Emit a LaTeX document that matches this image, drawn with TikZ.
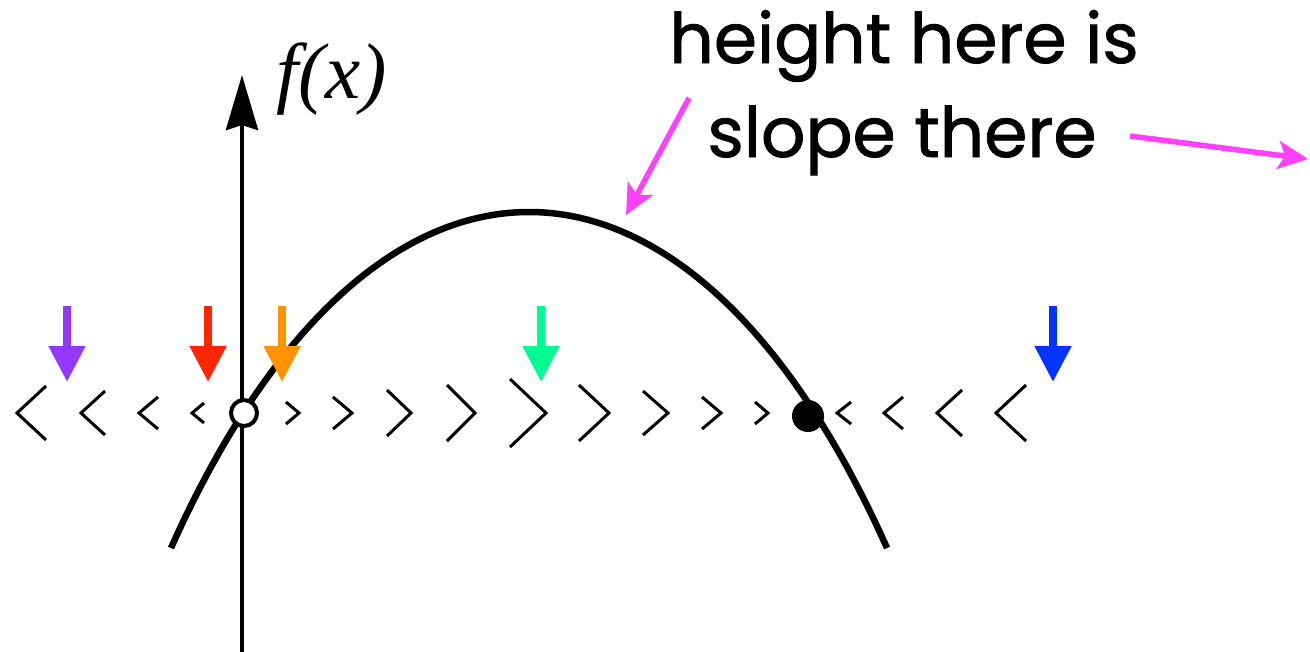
\documentclass[tikz,border=0pt]{standalone}
\usepackage{fontspec}
\setmainfont{Poppins}
\newfontfamily\labelfont{Poppins}[FakeBold=1.2]
\newfontfamily\timesfont{Liberation Serif}
\usetikzlibrary{arrows.meta}
\definecolor{grape}{HTML}{9437FF}
\definecolor{maraschino}{HTML}{FF2600}
\definecolor{tangerine}{HTML}{FF9300}
\definecolor{seafoam}{HTML}{00FA92}
\definecolor{blueberry}{HTML}{0433FF}
\definecolor{magentacrayon}{HTML}{FF40FF}
\begin{document}
\begin{tikzpicture}[x=0.01cm,y=-0.01cm,
  chev/.style={line width=0.03cm, line cap=butt, line join=miter},
  axisline/.style={line width=0.04cm, -{Stealth[length=0.55cm,width=0.32cm,inset=0.05cm]}},
  curveline/.style={line width=0.065cm},
  flowarrow/.style={line width=0.08cm, draw=#1, -{Triangle[length=0.36cm,width=0.35cm,fill=#1]}},
  pinkarrow/.style={line width=0.055cm, draw=magentacrayon, -{Stealth[length=0.3cm,width=0.28cm,inset=0.07cm,fill=magentacrayon]}},
  opendot/.style={circle, draw, line width=0.04cm, fill=white, minimum size=0.26cm, inner sep=0pt},
  fulldot/.style={circle, fill=black, minimum size=0.32cm, inner sep=0pt},
  label text/.style={font=\labelfont\fontsize{19.8}{26}\selectfont, inner sep=0pt, anchor=base}
]
\useasboundingbox (0,0) rectangle (1310,651);

% axis
\coordinate (axbot) at (242,655);
\coordinate (axtop) at (242,75);
\draw[axisline] (axbot) -- (axtop);
\node[inner sep=0pt, anchor=base west, font=\timesfont\itshape\fontsize{22.5}{27}\selectfont] (fx) at (276,98) {f(x)};

% curve
\coordinate (cl) at (171,548);
\coordinate (cr) at (887,548);
\draw[curveline] (cl) .. controls (371,100) and (687,100) .. (cr);

% chevrons pointing left
\foreach \x/\h/\w in {17/27/29, 81/22/24, 139/16/19, 192/10/12, 837/11/14, 884/16/19, 937/23/25, 996/28/30}
  \draw[chev] (\x+\w,413-\h) -- (\x,413) -- (\x+\w,413+\h);
% chevrons pointing right
\foreach \x/\h/\w in {299/11/13, 352/16/19, 411/23/24, 475/28/28, 546/34/36, 609/28/30, 668/22/25, 721/16/19, 768/11/13}
  \draw[chev] (\x-\w,413-\h) -- (\x,413) -- (\x-\w,413+\h);

% fixed points
\node[opendot] (unstable) at (244,413) {};
\node[fulldot] (stable) at (808,416) {};

% coloured arrows
\foreach \x/\c [count=\i] in {67/grape, 208/maraschino, 282/tangerine, 541/seafoam, 1053/blueberry} {
  \coordinate (a\i s) at (\x,306);
  \coordinate (a\i e) at (\x,382);
  \draw[flowarrow=\c] (a\i s) -- (a\i e);
}

% labels
\node[label text] (t1) at (904,63) {height here is};
\node[label text] (t2) at (902,157) {slope there};

% pink arrows
\coordinate (p1s) at (689,98);
\coordinate (p1e) at (626,215);
\draw[pinkarrow] (p1s) -- (p1e);
\coordinate (p2s) at (1130,136);
\coordinate (p2e) at (1308,159);
\draw[pinkarrow] (p2s) -- (p2e);
\end{tikzpicture}
\end{document}
